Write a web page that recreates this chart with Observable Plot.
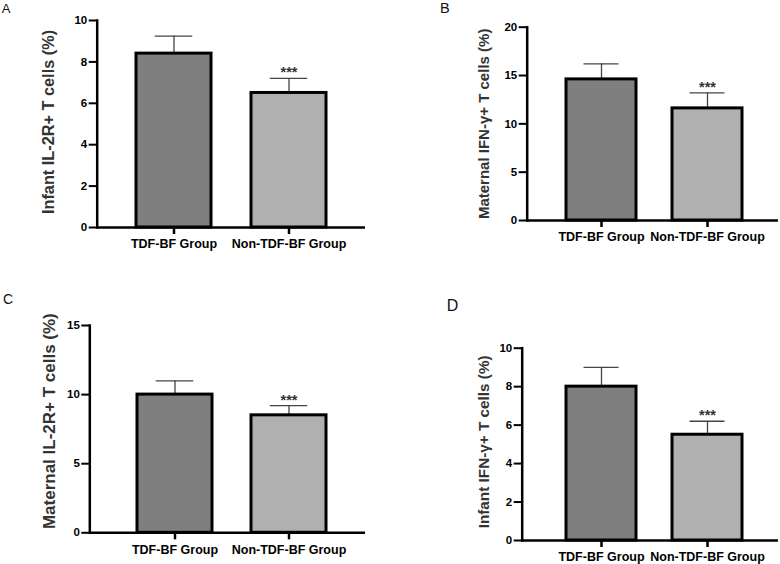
<!DOCTYPE html>
<html>
<head>
<meta charset="utf-8">
<script src="https://cdn.jsdelivr.net/npm/d3@7"></script>
<script src="https://cdn.jsdelivr.net/npm/@observablehq/plot@0.6"></script>
<style>
  html, body { margin: 0; padding: 0; background: #fff; }
  #fig { position: relative; width: 780px; height: 564px; overflow: hidden; font-family: "Liberation Sans", Arial, sans-serif; }
  .panel { position: absolute; }
  .letter { position: absolute; line-height: 1; color: #111; font-family: "Liberation Sans", Arial, sans-serif; }
  .panel svg text { font-weight: bold; }
</style>
</head>
<body>
<div id="fig"></div>
<script>
// Groups shown on every panel's x axis
const groups = ["TDF-BF Group", "Non-TDF-BF Group"];
const barColors = ["#7f7f7f", "#b0b0b0"];
const significance = ["", "***"];

// Panel A: infant IL-2R+ T cells (%), mean and upper error
const infantIL2R = [8.4, 6.5];
const infantIL2RErr = [0.85, 0.7];
const infantIL2RTicks = [0, 2, 4, 6, 8, 10];

// Panel B: maternal IFN-γ+ T cells (%)
const maternalIFNG = [14.6, 11.6];
const maternalIFNGErr = [1.6, 1.6];
const maternalIFNGTicks = [0, 5, 10, 15, 20];

// Panel C: maternal IL-2R+ T cells (%)
const maternalIL2R = [10.0, 8.5];
const maternalIL2RErr = [1.0, 0.7];
const maternalIL2RTicks = [0, 5, 10, 15];

// Panel D: infant IFN-γ+ T cells (%)
const infantIFNG = [8.0, 5.5];
const infantIFNGErr = [1.0, 0.7];
const infantIFNGTicks = [0, 2, 4, 6, 8, 10];

const panels = [
  {letter: "A", title: "Infant IL-2R+ T cells (%)", means: infantIL2R, errs: infantIL2RErr, ticks: infantIL2RTicks,
   left: 0, top: 0, width: 390, height: 270, mL: 96.7, mR: 25, mT: 20, mB: 43,
   xRange: [136, 326.5], pad: 0.35, titleSize: 16.3, titleOffset: 48, titleShift: -2,
   letterPos: [1.7, 2.3, 13]},
  {letter: "B", title: "Maternal IFN-γ+ T cells (%)", means: maternalIFNG, errs: maternalIFNGErr, ticks: maternalIFNGTicks,
   left: 390, top: 0, width: 390, height: 270, mL: 136.7, mR: 2, mT: 26.7, mB: 50,
   xRange: [175, 351.7], pad: 0.344, titleSize: 15, titleOffset: 43, titleShift: 0,
   letterPos: [440, 1.2, 14.5]},
  {letter: "C", title: "Maternal IL-2R+ T cells (%)", means: maternalIL2R, errs: maternalIL2RErr, ticks: maternalIL2RTicks,
   left: 0, top: 280, width: 390, height: 284, mL: 89.3, mR: 25, mT: 45, mB: 31.7,
   xRange: [136.7, 326], pad: 0.345, titleSize: 17, titleOffset: 40.6, titleShift: -8,
   letterPos: [3, 292.2, 14]},
  {letter: "D", title: "Infant IFN-γ+ T cells (%)", means: infantIFNG, errs: infantIFNGErr, ticks: infantIFNGTicks,
   left: 390, top: 280, width: 390, height: 284, mL: 131.7, mR: 2, mT: 67.7, mB: 24,
   xRange: [175, 351.7], pad: 0.344, titleSize: 15.3, titleOffset: 38, titleShift: -2.5,
   letterPos: [446.7, 297.5, 16]}
];

const fig = document.getElementById("fig");

for (const p of panels) {
  const rows = groups.map((g, i) => ({group: g, mean: p.means[i], err: p.errs[i], sig: significance[i]}));
  const bandwidth = (p.xRange[1] - p.xRange[0]) / (2 - p.pad) * (1 - p.pad);
  const capInset = bandwidth / 4;

  const chart = Plot.plot({
    width: p.width,
    height: p.height,
    marginLeft: p.mL,
    marginRight: p.mR,
    marginTop: p.mT,
    marginBottom: p.mB,
    style: {fontFamily: "'Liberation Sans', Arial, sans-serif", fontWeight: "bold", color: "black", background: "white", overflow: "visible"},
    x: {type: "band", domain: groups, range: p.xRange, paddingInner: p.pad, paddingOuter: 0},
    y: {domain: [0, p.ticks[p.ticks.length - 1]]},
    color: {domain: groups, range: barColors},
    marks: [
      // error bars (upper only), drawn under the bars
      Plot.ruleX(rows, {x: "group", y1: "mean", y2: d => d.mean + d.err, stroke: "#444", strokeWidth: 1.3}),
      Plot.tickY(rows, {x: "group", y: d => d.mean + d.err, stroke: "#444", strokeWidth: 1.3, insetLeft: capInset, insetRight: capInset}),
      Plot.barY(rows, {x: "group", y: "mean", fill: "group", stroke: "black", strokeWidth: 3}),
      // significance stars above the error caps
      Plot.text(rows, {x: "group", y: d => d.mean + d.err, text: "sig", lineAnchor: "bottom", dy: -1, fontSize: 14.5, fill: "#333"}),
      Plot.axisY({ticks: p.ticks, tickSize: 8, tickPadding: 2, strokeWidth: 2, fontSize: 11.5, label: null}),
      Plot.axisX({tickSize: 7, tickPadding: 5, strokeWidth: 2.5, fontSize: 12.5, label: null}),
      Plot.frame({anchor: "left", stroke: "black", strokeWidth: 2.5}),
      Plot.ruleY([0], {stroke: "black", strokeWidth: 2.5}),
      // rotated y-axis title
      Plot.text([p.title], {text: d => d, frameAnchor: "left", rotate: -90, dx: -p.titleOffset, dy: p.titleShift,
        fontSize: p.titleSize, fill: "#333", lineAnchor: "middle", textAnchor: "middle"})
    ]
  });

  const holder = document.createElement("div");
  holder.className = "panel";
  holder.style.left = p.left + "px";
  holder.style.top = p.top + "px";
  holder.appendChild(chart);
  fig.appendChild(holder);

  const letter = document.createElement("div");
  letter.className = "letter";
  letter.textContent = p.letter;
  letter.style.left = p.letterPos[0] + "px";
  letter.style.top = p.letterPos[1] + "px";
  letter.style.fontSize = p.letterPos[2] + "px";
  fig.appendChild(letter);
}
</script>
</body>
</html>
